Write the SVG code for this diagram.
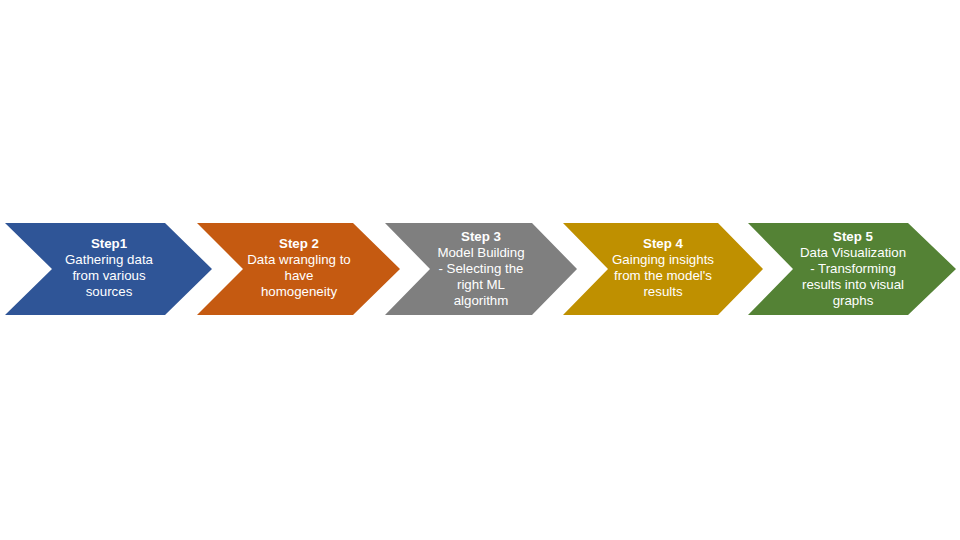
<svg xmlns="http://www.w3.org/2000/svg" width="960" height="540" viewBox="0 0 960 540">
<style>
.t{font-family:"Liberation Sans",Arial,sans-serif;font-size:13.3px;fill:#fff;text-anchor:middle}
.b{font-weight:bold}
</style>
<rect width="960" height="540" fill="#fff"/>
<g id="step1">
<polygon points="5,223 165,223 212,269 165,315 5,315 52,269" fill="#2F5597"/>
<text class="t"><tspan class="b" x="109" y="248">Step1</tspan><tspan x="109" y="264">Gathering data</tspan><tspan x="109" y="280">from various</tspan><tspan x="109" y="296">sources</tspan></text>
</g>
<g id="step2">
<polygon points="197,223 353,223 400,269 353,315 197,315 243,269" fill="#C55A11"/>
<text class="t"><tspan class="b" x="299" y="248">Step 2</tspan><tspan x="299" y="264">Data wrangling to</tspan><tspan x="299" y="280">have</tspan><tspan x="299" y="296">homogeneity</tspan></text>
</g>
<g id="step3">
<polygon points="385,223 532,223 577,269 532,315 385,315 430,269" fill="#7F7F7F"/>
<text class="t"><tspan class="b" x="481" y="241">Step 3</tspan><tspan x="481" y="257">Model Building</tspan><tspan x="481" y="273">- Selecting the</tspan><tspan x="481" y="289">right ML</tspan><tspan x="481" y="305">algorithm</tspan></text>
</g>
<g id="step4">
<polygon points="563,223 718,223 763,269 718,315 563,315 608,269" fill="#BF9000"/>
<text class="t"><tspan class="b" x="663" y="248">Step 4</tspan><tspan x="663" y="264">Gainging insights</tspan><tspan x="663" y="280">from the model's</tspan><tspan x="663" y="296">results</tspan></text>
</g>
<g id="step5">
<polygon points="748,223 908,223 956,269 908,315 748,315 793,269" fill="#548235"/>
<text class="t"><tspan class="b" x="853" y="241">Step 5</tspan><tspan x="853" y="257">Data Visualization</tspan><tspan x="853" y="273">- Transforming</tspan><tspan x="853" y="289">results into visual</tspan><tspan x="853" y="305">graphs</tspan></text>
</g>
<g id="connectors"></g>
</svg>
